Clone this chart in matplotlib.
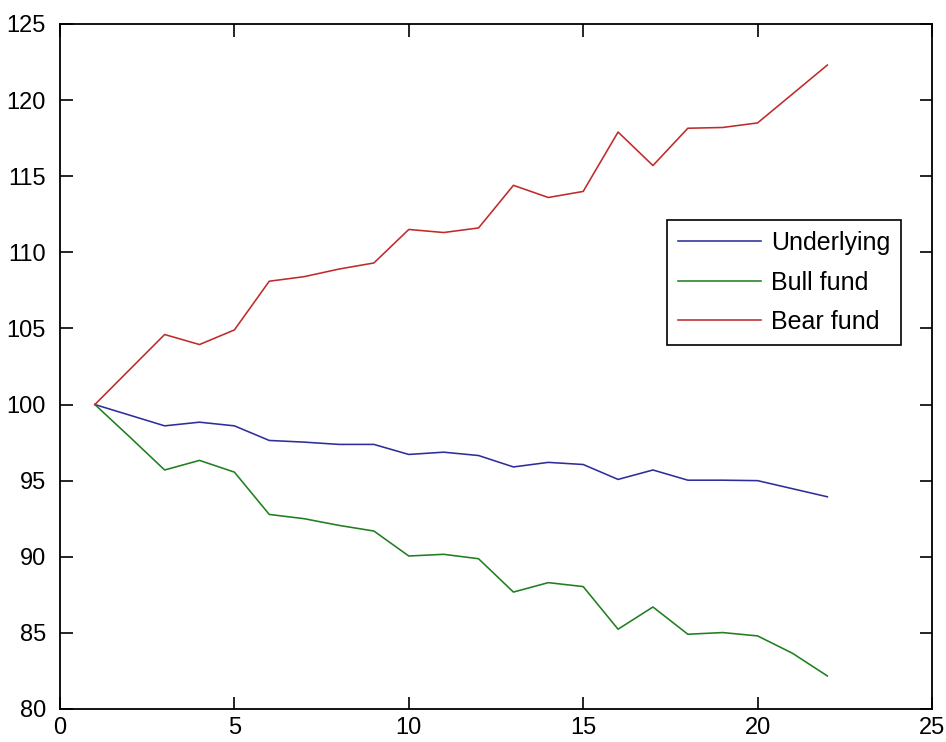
import matplotlib
matplotlib.use("Agg")
import matplotlib.pyplot as plt

# Daily values of the index and the two leveraged funds (start = 100)
days = list(range(1, 23))
underlying = [100.0, 99.3, 98.6, 98.84, 98.6, 97.64, 97.53, 97.38, 97.38, 96.72, 96.87,
              96.65, 95.9, 96.2, 96.06, 95.08, 95.7, 95.03, 95.03, 95.0, 94.47, 93.94]
bull_fund = [100.0, 97.87, 95.7, 96.33, 95.56, 92.78, 92.5, 92.06, 91.69, 90.05, 90.16,
             89.87, 87.68, 88.3, 88.04, 85.24, 86.7, 84.91, 85.02, 84.8, 83.66, 82.17]
bear_fund = [100.0, 102.3, 104.6, 103.94, 104.9, 108.1, 108.4, 108.9, 109.3, 111.5, 111.3,
             111.6, 114.4, 113.6, 114.0, 117.9, 115.7, 118.15, 118.2, 118.5, 120.4, 122.3]
series_names = ["Underlying", "Bull fund", "Bear fund"]

xticks = [0, 5, 10, 15, 20, 25]
yticks = [80, 85, 90, 95, 100, 105, 110, 115, 120, 125]

plt.rcParams["font.family"] = ["Liberation Sans", "DejaVu Sans"]
plt.rcParams["font.size"] = 17

fig = plt.figure(figsize=(9.46, 7.42), dpi=100)
ax = fig.add_axes([0.0634, 0.0445, 0.9218, 0.9232])

ax.plot(days, underlying, color="#2e2e9a", lw=1.15, label=series_names[0])
ax.plot(days, bull_fund, color="#1f7f1f", lw=1.15, label=series_names[1])
ax.plot(days, bear_fund, color="#c02a2a", lw=1.15, label=series_names[2])

ax.set_xlim(0, 25)
ax.set_ylim(80, 125)
ax.set_xticks(xticks)
ax.set_yticks(yticks)
ax.tick_params(direction="in", length=9, width=1.2, top=True, right=True,
               labelsize=17, colors="black", pad=6)
ax.tick_params(axis="y", pad=10)
for sp in ax.spines.values():
    sp.set_linewidth(1.3)
    sp.set_color("black")

leg = ax.legend(loc="upper left", bbox_to_anchor=(0.696, 0.714), borderaxespad=0,
                fancybox=False, framealpha=1, edgecolor="black", fontsize=18,
                handlelength=3.3, handletextpad=0.4, labelspacing=0.62,
                borderpad=0.45)
leg.get_frame().set_linewidth(1.2)

fig.savefig("out.png", dpi=100, facecolor="white")
